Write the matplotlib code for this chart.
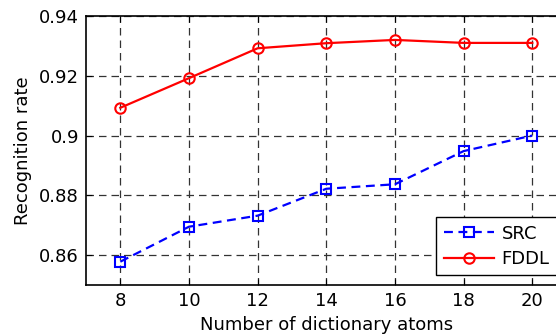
import numpy as np
import matplotlib
matplotlib.use("Agg")
import matplotlib.pyplot as plt

plt.rcParams['font.family'] = ['DejaVu Sans']

# datos
atoms = [8, 10, 12, 14, 16, 18, 20]
src = [0.8578, 0.8695, 0.8732, 0.8822, 0.8837, 0.8948, 0.9000]
fddl = [0.9093, 0.9192, 0.9292, 0.9309, 0.9320, 0.9310, 0.9310]
yticks = [0.86, 0.88, 0.9, 0.92, 0.94]
ytick_labels = ["0.86", "0.88", "0.9", "0.92", "0.94"]

fig = plt.figure(figsize=(5.56, 3.35), dpi=100)
W, H = 556, 335
ax = fig.add_axes([86 / W, (H - 285) / H, 480.6 / W, 269 / H])

ax.plot(atoms, src, "--s", color="#0000ff", lw=1.6, ms=7.5, mfc="none",
        mew=1.5, label="SRC", dashes=(4, 2.5))
ax.plot(atoms, fddl, "-o", color="#ff0000", lw=1.6, ms=7.5, mfc="none",
        mew=1.5, label="FDDL")

ax.set_xlim(7, 21)
ax.set_ylim(0.85, 0.94)
ax.set_xticks(atoms)
ax.set_yticks(yticks)
ax.set_yticklabels(ytick_labels)
ax.grid(True, color="#333333", linestyle=(0, (6, 4)), lw=0.9)
ax.tick_params(direction="in", length=4, labelsize=13, top=True, right=True, pad=5)
for s in ax.spines.values():
    s.set_linewidth(1.2)

ax.set_xlabel("Number of dictionary atoms", fontsize=13, labelpad=4)
ax.set_ylabel("Recognition rate", fontsize=13, labelpad=5)

leg = ax.legend(loc="lower right", fontsize=13, fancybox=False, framealpha=1,
                edgecolor="black", handlelength=2.8, borderaxespad=0.55,
                labelspacing=0.4, handletextpad=0.4, borderpad=0.4)
leg.get_frame().set_linewidth(1.0)

fig.savefig("out.png", dpi=100)
